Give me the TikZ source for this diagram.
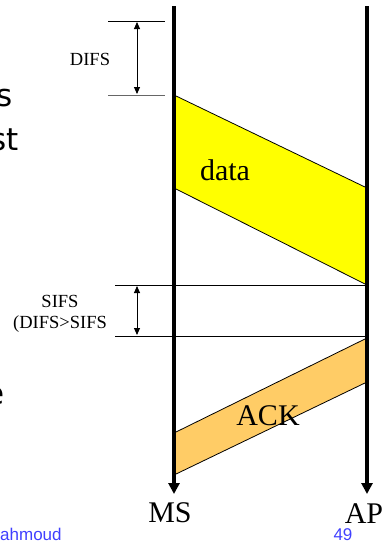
\documentclass[tikz,border=0pt]{standalone}
\usepackage{fontspec}
\setmainfont{Liberation Serif}
\newfontfamily\slidesans{DejaVu Sans}
\newfontfamily\footsans{Liberation Sans}
\usetikzlibrary{arrows.meta}
\definecolor{datayellow}{RGB}{255,255,0}
\definecolor{ackorange}{RGB}{255,204,102}
\definecolor{footblue}{RGB}{64,64,255}
\tikzset{
  timeline/.style={line width=3.6pt, -{Triangle[width=11pt,length=11pt]}},
  tick/.style={line width=0.9pt},
  gap/.style={line width=0.9pt, {Triangle[width=6pt,length=7pt]}-{Triangle[width=6pt,length=7pt]}},
  frame/.style={draw=black, line width=0.8pt},
  biglabel/.style={font=\fontsize{30}{36}\selectfont, inner sep=0pt, anchor=base},
  smalllabel/.style={font=\fontsize{18.5}{22}\selectfont, inner sep=0pt, anchor=base},
  slidetext/.style={font=\slidesans\fontsize{31}{37}\selectfont, inner sep=0pt, anchor=base east},
  foottext/.style={font=\footsans\fontsize{17}{20}\selectfont, text=footblue, inner sep=0pt}
}
\begin{document}
\begin{tikzpicture}[x=1pt,y=-1pt]
\useasboundingbox[fill=white] (0,0) rectangle (385,542);

% station time lines
\coordinate (mstop) at (174,6);
\coordinate (msend) at (174,494);
\coordinate (aptop) at (367,6);
\coordinate (apend) at (367,494);

% data frame, MS -> AP
\coordinate (d1) at (174,95);
\coordinate (d2) at (367,188);
\coordinate (d3) at (367,285);
\coordinate (d4) at (174,188);
\filldraw[frame, fill=datayellow] (d1) -- (d2) -- (d3) -- (d4) -- cycle;

% ACK frame, AP -> MS
\coordinate (a1) at (367,338);
\coordinate (a2) at (367,382);
\coordinate (a3) at (174,475);
\coordinate (a4) at (174,433);
\filldraw[frame, fill=ackorange] (a1) -- (a2) -- (a3) -- (a4) -- cycle;

% DIFS interval
\coordinate (difsA) at (108,21);
\coordinate (difsB) at (165,21);
\coordinate (difsC) at (108,95);
\coordinate (difsD) at (165,95);
\draw[tick] (difsA) -- (difsB);
\draw[tick, draw=black!60] (difsC) -- (difsD);
\coordinate (difsTop) at (137,22);
\coordinate (difsBot) at (137,94);
\draw[gap] (difsTop) -- (difsBot);

% SIFS interval
\coordinate (sifsA) at (115,285);
\coordinate (sifsB) at (367,285);
\coordinate (sifsC) at (115,336);
\coordinate (sifsD) at (367,336);
\draw[tick] (sifsA) -- (sifsB);
\draw[tick] (sifsC) -- (sifsD);
\coordinate (sifsTop) at (137,286);
\coordinate (sifsBot) at (137,335);
\draw[gap] (sifsTop) -- (sifsBot);

\draw[timeline] (mstop) -- (msend);
\draw[timeline] (aptop) -- (apend);

% labels
\node[biglabel] (data) at (225,180) {data};
\node[biglabel] (ack) at (268,425) {ACK};
\node[biglabel] (ms) at (170,522) {MS};
\node[biglabel] (ap) at (364,523) {AP};
\node[smalllabel] (difs) at (90,65) {DIFS};
\node[smalllabel] (sifs) at (60,307) {SIFS};
\node[smalllabel] (cmp) at (60,328) {(DIFS>SIFS};

% slide text running in from the left
\node[slidetext] (t1) at (13,106) {s};
\node[slidetext] (t2) at (19,150) {st};
\node[slidetext] (t3) at (5,404) {e};
\node[foottext, anchor=base west] (foot) at (0,540) {ahmoud};
\node[foottext, anchor=base] (page) at (343,540) {49};
\end{tikzpicture}
\end{document}
